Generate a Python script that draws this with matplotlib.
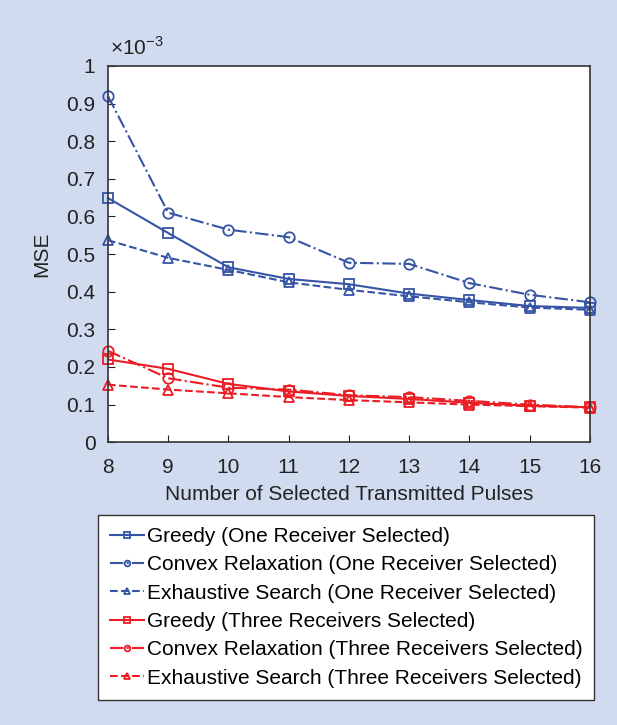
import matplotlib
matplotlib.use("Agg")
import matplotlib.pyplot as plt

plt.rcParams['font.family'] = ['Liberation Sans', 'DejaVu Sans']
plt.rcParams['mathtext.fontset'] = 'custom'
plt.rcParams['mathtext.rm'] = 'Liberation Sans'

pulses = [8, 9, 10, 11, 12, 13, 14, 15, 16]

# MSE values (x 1e-3)
greedy_one = [0.649, 0.556, 0.465, 0.434, 0.420, 0.395, 0.378, 0.362, 0.357]
convex_one = [0.920, 0.610, 0.565, 0.545, 0.477, 0.474, 0.423, 0.392, 0.372]
exh_one = [0.537, 0.490, 0.458, 0.425, 0.405, 0.388, 0.372, 0.358, 0.352]
greedy_three = [0.220, 0.195, 0.155, 0.135, 0.123, 0.115, 0.105, 0.097, 0.093]
convex_three = [0.243, 0.170, 0.145, 0.140, 0.125, 0.120, 0.110, 0.100, 0.093]
exh_three = [0.153, 0.140, 0.130, 0.120, 0.112, 0.106, 0.100, 0.096, 0.092]

labels = ['Greedy (One Receiver Selected)',
          'Convex Relaxation (One Receiver Selected)',
          'Exhaustive Search (One Receiver Selected)',
          'Greedy (Three Receivers Selected)',
          'Convex Relaxation (Three Receivers Selected)',
          'Exhaustive Search (Three Receivers Selected)']

blue = '#3654a5'
red = '#ec1c24'
bg = '#d1dbef'

fig = plt.figure(figsize=(6.17, 7.25), dpi=100, facecolor=bg)
ax = fig.add_axes([0.175, 0.39, 0.781, 0.519])

series = [greedy_one, convex_one, exh_one, greedy_three, convex_three, exh_three]
colors = [blue, blue, blue, red, red, red]
styles = ['-', '-.', '--', '-', '-.', '--']
markers = ['s', 'o', '^', 's', 'o', '^']

handles = []
for ys, c, ls, m, lab in zip(series, colors, styles, markers, labels):
    h, = ax.plot(pulses, ys, color=c, linestyle=ls, marker=m, markersize=7.5,
                 markerfacecolor='none', markeredgewidth=1.3, linewidth=1.5,
                 label=lab, clip_on=False)
    handles.append(h)

ax.set_xlim(8, 16)
ax.set_ylim(0, 1)
ax.set_xticks(pulses)
ax.set_yticks([0, 0.1, 0.2, 0.3, 0.4, 0.5, 0.6, 0.7, 0.8, 0.9, 1])
ax.set_yticklabels(['0', '0.1', '0.2', '0.3', '0.4', '0.5', '0.6', '0.7', '0.8', '0.9', '1'])
ax.tick_params(direction='in', labelsize=15, length=5, top=False, right=False,
               colors='#222222')
ax.tick_params(axis='x', pad=11)
ax.tick_params(axis='y', pad=9)
for s in ax.spines.values():
    s.set_color('#333333')
    s.set_linewidth(1.2)
ax.set_xlabel('Number of Selected Transmitted Pulses', fontsize=15, labelpad=6,
              color='#222222')
ax.set_ylabel('MSE', fontsize=15, labelpad=11, color='#222222')
ax.text(0.005, 1.02, r'$\times10^{-3}$', transform=ax.transAxes, fontsize=15,
        ha='left', va='bottom', color='#222222')

fig.legend(handles=handles, loc='upper left', bbox_to_anchor=(0.159, 0.29),
           fontsize=15, frameon=True, fancybox=False, edgecolor='#333333',
           facecolor='white', framealpha=1,
           handlelength=1.6, handletextpad=0.15, labelspacing=0.45,
           borderpad=0.58, borderaxespad=0, markerscale=0.55)

fig.savefig('out.png', dpi=100, facecolor=bg)
